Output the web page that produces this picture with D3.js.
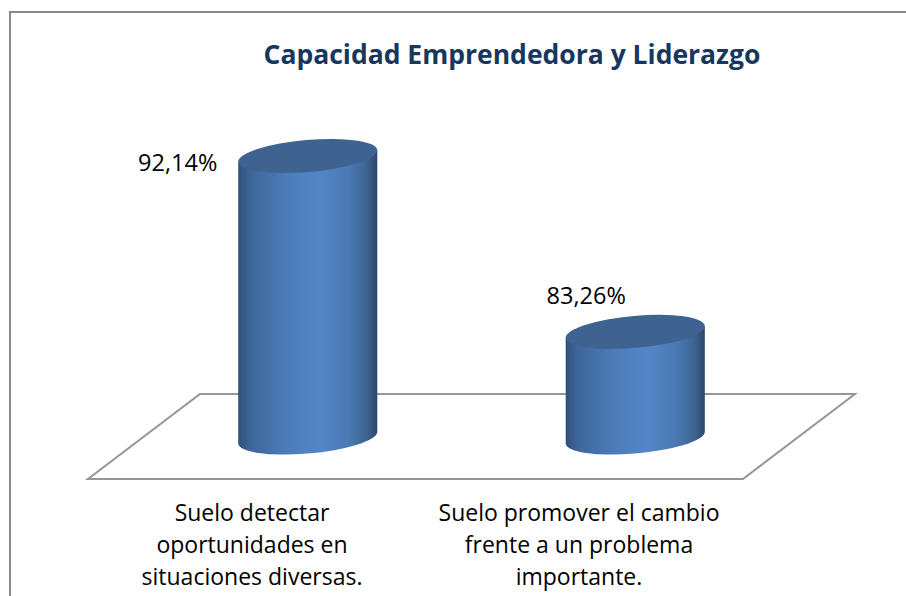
<!DOCTYPE html>
<html>
<head>
<meta charset="utf-8">
<script src="https://cdnjs.cloudflare.com/ajax/libs/d3/7.8.5/d3.min.js"></script>
<style>
html, body { margin: 0; padding: 0; background: white; overflow: hidden; }
text { font-family: "Open Sans", sans-serif; fill: #000; }
</style>
</head>
<body>
<div id="chart"></div>
<script>
// values
const categories = ["a", "b"]
const values = [92.14, 83.26]
const value_labels = ["92,14%", "83,26%"]
const category_lines = [
    ["Suelo detectar", "oportunidades en", "situaciones diversas."],
    ["Suelo promover el cambio", "frente a un problema", "importante."]
]
const title = "Capacidad Emprendedora y Liderazgo"

const w = 906
const h = 596

const svg = d3.select("#chart")
    .append("svg")
    .attr("width", w)
    .attr("height", h)

// Outer chart frame, cut off by the window on the right and bottom
svg.append("rect")
    .attr("x", 10)
    .attr("y", 12)
    .attr("width", w)
    .attr("height", h)
    .attr("fill", "white")
    .attr("stroke", "#8a8a8a")
    .attr("stroke-width", 2)

// Scales
const x = d3.scaleBand()
    .domain(categories)
    .range([144, 799])
    .padding(0)

const y = d3.scaleLinear()
    .domain([77.93, 92.14])
    .range([437.5, 156])

// Cylinder geometry
const rx = 69.8
const ry = 16
const tilt = -5 // degrees, the ellipses lean up to the right

// Tangent points of the tilted ellipse with the cylinder sides
const rad = tilt * Math.PI / 180
const side_x = Math.sqrt(rx * rx * Math.cos(rad) ** 2 + ry * ry * Math.sin(rad) ** 2)
const side_dy = (rx * rx - ry * ry) * Math.sin(rad) * Math.cos(rad) / side_x

// Cylinder side gradient
const defs = svg.append("defs")
const grad = defs.append("linearGradient")
    .attr("id", "side")
    .attr("x1", "0%").attr("x2", "100%")
    .attr("y1", "0%").attr("y2", "0%")
const stops = [[0, "#2f4f78"], [0.08, "#3d6598"], [0.3, "#4a78b4"], [0.58, "#5386c8"], [0.8, "#4a78b2"], [0.93, "#3d628f"], [1, "#2b466b"]]
grad.selectAll("stop")
    .data(stops)
    .enter()
    .append("stop")
        .attr("offset", d => d[0])
        .attr("stop-color", d => d[1])

// Floor
const floor = d3.line()
const floor_pts = [[88, 479], [743, 479], [855, 394], [200, 394]]
svg.append("path")
    .attr("d", floor(floor_pts) + "Z")
    .attr("fill", "white")
    .attr("stroke", "#969696")
    .attr("stroke-width", 2)

const bars = svg.append("g")
    .selectAll("g")
    .data(values)
    .enter()
    .append("g")

// Body: straight sides, lower half of the bottom ellipse
bars.append("path")
    .attr("fill", "url(#side)")
    .attr("d", (d, i) => {
        const cx = x(categories[i]) + x.bandwidth() / 2
        const top = y(d)
        const base = y.range()[0]
        const left = cx - side_x
        const right = cx + side_x
        return `M${left} ${top - side_dy}L${right} ${top + side_dy}L${right} ${base + side_dy}` +
            `A${rx} ${ry} ${tilt} 0 1 ${left} ${base - side_dy}Z`
    })

// Top cap
bars.append("ellipse")
    .attr("cx", (d, i) => x(categories[i]) + x.bandwidth() / 2)
    .attr("cy", d => y(d))
    .attr("rx", rx)
    .attr("ry", ry)
    .attr("transform", (d, i) => `rotate(${tilt} ${x(categories[i]) + x.bandwidth() / 2} ${y(d)})`)
    .attr("fill", "#3e6390")

// Value labels
svg.append("g")
    .selectAll("text")
    .data(value_labels)
    .enter()
    .append("text")
        .attr("x", (d, i) => x(categories[i]) + x.bandwidth() / 2 + [-130, -49][i])
        .attr("y", (d, i) => y(values[i]) + [15, -28][i])
        .attr("text-anchor", "middle")
        .attr("font-size", 23.5)
        .text(d => d)

// Category labels
const cat = svg.append("g")
    .selectAll("text")
    .data(category_lines)
    .enter()
    .append("text")
        .attr("text-anchor", "middle")
        .attr("font-size", 23)

cat.selectAll("tspan")
    .data((d, i) => d.map(s => [s, i]))
    .enter()
    .append("tspan")
        .attr("x", d => [252, 579][d[1]])
        .attr("y", (d, i) => 521 + i * 32)
        .text(d => d[0])

// Title
svg.append("text")
    .attr("x", 512)
    .attr("y", 64)
    .attr("text-anchor", "middle")
    .attr("font-size", 26.5)
    .attr("font-weight", "bold")
    .style("fill", "#17375e")
    .text(title)
</script>
</body>
</html>
